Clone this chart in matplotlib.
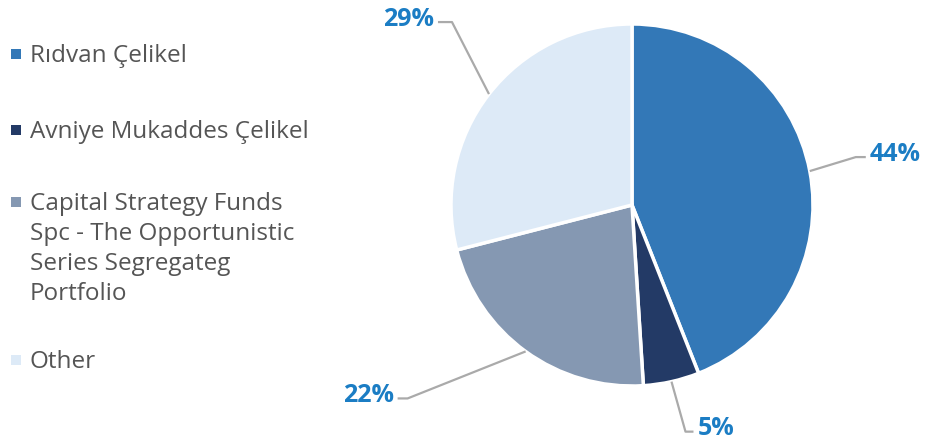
import numpy as np
import matplotlib
matplotlib.use("Agg")
import matplotlib.pyplot as plt

labels = ["Rıdvan Çelikel", "Avniye Mukaddes Çelikel",
          "Capital Strategy Funds\nSpc - The Opportunistic\nSeries Segregateg\nPortfolio", "Other"]
values = [44, 5, 22, 29]
colors = ["#3378B7", "#233A66", "#8598B2", "#DDEAF7"]
pct_labels = ["44%", "5%", "22%", "29%"]

W, H = 928, 445
fig = plt.figure(figsize=(W / 100, H / 100), dpi=100)
ax = fig.add_axes([0, 0, 1, 1])

cx, cy, r = 632, H - 205, 181
wedges, _ = ax.pie(values, colors=colors, startangle=90, counterclock=False,
                   center=(cx, cy), radius=r, frame=True,
                   wedgeprops=dict(edgecolor="white", linewidth=2.5))
ax.set_xlim(0, W)
ax.set_ylim(0, H)
ax.set_aspect("equal")
ax.axis("off")

# label leader offsets: (elbow dx, elbow dy, horizontal len) relative to edge point
offsets = {0: (46, 14, 10), 1: (14, -50, 8), 2: (-118, -47, -10), 3: (-37, 72, -14)}
font = "Open Sans"
for i, w in enumerate(wedges):
    ang = np.deg2rad((w.theta1 + w.theta2) / 2)
    ex, ey = cx + r * np.cos(ang), cy + r * np.sin(ang)
    dx, dy, hl = offsets[i]
    bx, by = ex + dx, ey + dy
    tx = bx + hl
    ax.plot([ex, bx, tx], [ey, by, by], color="#AAAAAA", lw=1.6, solid_capstyle="butt")
    ha = "left" if hl > 0 else "right"
    ax.text(tx + (4 if hl > 0 else -4), by + 3, pct_labels[i], ha=ha, va="center",
            fontsize=18, fontweight="bold", color="#1B7DC4", family=font)

# legend (marker centre y, text baseline 8px below, 30px line pitch)
leg_y = [54, 130, 202, 360]
for lab, col, y in zip(labels, colors, leg_y):
    ax.scatter([16], [H - y], marker="s", s=42, color=col, linewidths=0)
    for k, line in enumerate(lab.split("\n")):
        ax.text(30, H - y - 8 - 30 * k, line, ha="left", va="baseline", fontsize=17.5,
                color="#555555", family=font)

fig.savefig("out.png", dpi=100)
